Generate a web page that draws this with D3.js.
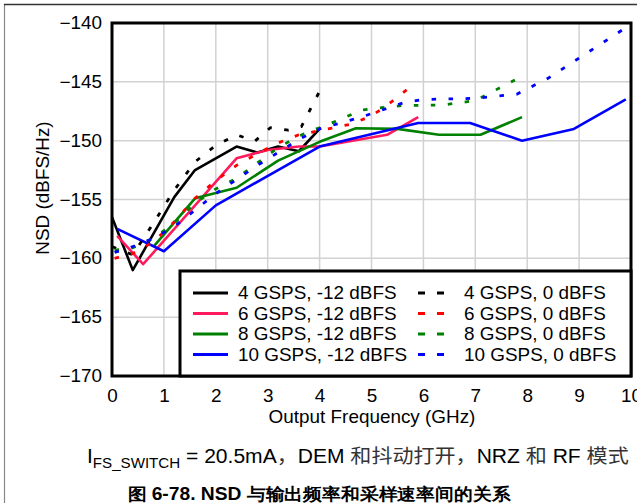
<!DOCTYPE html>
<html><head><meta charset="utf-8">
<script src="https://cdn.jsdelivr.net/npm/d3@7"></script>
<style>
html,body{margin:0;padding:0;background:#fff;}
svg{display:block;}
text{font-family:"Liberation Sans",Arial,Helvetica,sans-serif;}
</style></head>
<body>
<svg id="c" width="637" height="503"></svg>
<script>
// ---- data ----
const xTicks = [0,1,2,3,4,5,6,7,8,9,10];
const yTicks = [-140,-145,-150,-155,-160,-165,-170];

const f4m12 = [0.0, 0.4, 1.2, 1.6, 2.4, 2.8, 3.2, 3.6, 4.0];
const v4m12 = [-156.5, -161.0, -154.8, -152.5, -150.5, -151.0, -150.5, -150.9, -149.0];

const f6m12 = [0.1, 0.6, 2.4, 3.0, 3.6, 4.0, 5.3, 5.9];
const v6m12 = [-158.1, -160.5, -151.5, -150.8, -150.5, -150.5, -149.5, -148.0];

const f8m12 = [0.8, 1.6, 2.4, 3.2, 4.0, 4.7, 5.5, 6.3, 7.1, 7.9];
const v8m12 = [-159.0, -154.9, -154.0, -151.7, -150.1, -148.95, -149.0, -149.5, -149.5, -148.0];

const f10m12 = [0.1, 1.0, 2.0, 4.0, 5.9, 6.9, 7.9, 8.9, 9.9];
const v10m12 = [-157.5, -159.4, -155.5, -150.5, -148.5, -148.5, -150.0, -149.0, -146.5];

const f4z = [0.0, 0.4, 0.8, 1.2, 1.6, 2.0, 2.4, 2.75, 3.05, 3.4, 3.65, 4.0];
const v4z = [-159.0, -159.7, -157.0, -154.2, -151.8, -150.4, -149.5, -150.05, -148.9, -149.1, -148.8, -145.8];

const f6z = [0.05, 0.4, 0.8, 1.2, 1.6, 2.0, 2.4, 2.8, 3.2, 3.6, 4.0, 4.6, 5.0, 5.3, 5.7];
const v6z = [-160.0, -159.6, -158.6, -156.9, -154.9, -153.4, -152.1, -151.1, -150.2, -149.5, -149.15, -148.6, -147.9, -147.0, -145.6];

const f8z = [0.05, 0.4, 0.8, 1.2, 1.6, 2.0, 2.4, 2.8, 3.2, 3.6, 4.0, 4.4, 4.8, 5.2, 5.6, 6.0, 6.4, 7.0, 7.8];
const v8z = [-159.3, -159.1, -158.3, -157.0, -155.3, -154.1, -153.2, -151.9, -150.6, -149.6, -148.9, -148.2, -147.4, -147.2, -147.0, -147.0, -146.95, -146.6, -144.75];

const f10z = [0.05, 0.4, 0.8, 1.2, 1.6, 2.0, 2.4, 2.8, 3.2, 3.6, 4.0, 4.4, 4.8, 5.2, 5.6, 6.0, 7.0, 7.8, 8.4, 9.9];
const v10z = [-159.5, -159.0, -158.3, -157.3, -155.9, -154.5, -153.3, -152.1, -151.0, -149.9, -149.0, -148.5, -148.0, -147.4, -146.8, -146.5, -146.4, -146.05, -144.7, -140.4];

const seriesNames = ["4 GSPS, -12 dBFS","6 GSPS, -12 dBFS","8 GSPS, -12 dBFS","10 GSPS, -12 dBFS",
                     "4 GSPS, 0 dBFS","6 GSPS, 0 dBFS","8 GSPS, 0 dBFS","10 GSPS, 0 dBFS"];
const seriesColors = ["#000000","#ff1a5e","#008000","#0000ff","#000000","#ff0000","#008000","#0000ff"];

const xTitle = "Output Frequency (GHz)";
const yTitle = "NSD (dBFS/Hz)";
const figTitle = "图 6-78. NSD 与输出频率和采样速率间的关系";

// ---- build ----
const series = [
  [f4m12,v4m12],[f6m12,v6m12],[f8m12,v8m12],[f10m12,v10m12],
  [f4z,v4z],[f6z,v6z],[f8z,v8z],[f10z,v10z]
].map((p,i)=>({name:seriesNames[i], color:seriesColors[i], dashed:i>=4,
   pts:p[0].map((f,j)=>[f,p[1][j]])}));

const svg = d3.select("#c");
const L=112, R=631, T=23, B=376;
const x = d3.scaleLinear().domain([0,10]).range([L,R]);
const y = d3.scaleLinear().domain([-170,-140]).range([B,T]);
const SX = 1.08;

// outer page border
svg.append("line").attr("x1",4.5).attr("x2",4.5).attr("y1",4).attr("y2",503).attr("stroke","#888").attr("stroke-width",1.2);
svg.append("line").attr("x1",4).attr("x2",637).attr("y1",4.5).attr("y2",4.5).attr("stroke","#333").attr("stroke-width",1.5);

// grid
const g = svg.append("g");
g.selectAll(".gx").data(xTicks.slice(1,-1)).join("line")
  .attr("x1",d=>x(d)).attr("x2",d=>x(d)).attr("y1",T).attr("y2",B)
  .attr("stroke","#d2d2d2").attr("stroke-width",1.5);
g.selectAll(".gy").data(yTicks.slice(1,-1)).join("line")
  .attr("x1",L).attr("x2",R).attr("y1",d=>y(d)).attr("y2",d=>y(d))
  .attr("stroke","#d2d2d2").attr("stroke-width",1.5);

// axes
const ax = svg.append("g").attr("transform",`translate(0,${B})`)
  .call(d3.axisBottom(x).tickValues(xTicks).tickSize(0).tickPadding(14).tickFormat(d3.format("d")));
ax.select(".domain").remove();
const ay = svg.append("g").attr("transform",`translate(${L},0)`)
  .call(d3.axisLeft(y).tickValues(yTicks).tickSize(0).tickPadding(10).tickFormat(d3.format("d")));
ay.select(".domain").remove();
svg.selectAll(".tick text").attr("font-size",17.5).attr("fill","#000")
  .attr("font-family","Liberation Sans, Arial, sans-serif");
ax.selectAll(".tick text").attr("transform",`scale(${SX},1)`).attr("x",0);
ay.selectAll(".tick text").each(function(){
  const t=d3.select(this); const xx=+t.attr("x");
  t.attr("transform",`translate(${xx},0) scale(${SX},1)`).attr("x",0);
});

// lines
const line = d3.line().x(d=>x(d[0])).y(d=>y(d[1]));
const lg = svg.append("g");
lg.selectAll("path").data(series).join("path")
  .attr("d",d=>line(d.pts)).attr("fill","none")
  .attr("stroke",d=>d.color).attr("stroke-width",d=>d.dashed?2.8:2.6)
  .attr("stroke-dasharray",d=>d.dashed?"4.5,12.5":null)
  .attr("stroke-linejoin","round");

// frame
svg.append("rect").attr("x",L).attr("y",T).attr("width",R-L).attr("height",B-T)
  .attr("fill","none").attr("stroke","#000").attr("stroke-width",3);

// legend
const legX0=180, legY0=271;
svg.append("rect").attr("x",legX0).attr("y",legY0).attr("width",R-legX0).attr("height",B-legY0)
  .attr("fill","#fff").attr("stroke","#000").attr("stroke-width",3);
const rowY = i=>293+ i*20.5;
const leg = svg.append("g");
series.forEach((s,i)=>{
  const col = s.dashed?1:0, row=i%4;
  const lx = col? 418:193, tx = col? 464:238;
  leg.append("line").attr("x1",lx).attr("x2",lx+(col?26:35)).attr("y1",rowY(row)).attr("y2",rowY(row))
    .attr("stroke",s.color).attr("stroke-width",2.8)
    .attr("stroke-dasharray",s.dashed?"7,12":null);
  leg.append("text").attr("transform",`translate(${tx},${rowY(row)+6}) scale(${SX},1)`)
    .attr("font-size",17.5).text(s.name);
});

// axis titles
svg.append("text").attr("transform",`translate(372,423) scale(${SX},1)`).attr("text-anchor","middle")
  .attr("font-size",17.5).text(xTitle);
svg.append("text").attr("transform",`translate(49,188) rotate(-90) scale(${SX},1)`).attr("text-anchor","middle")
  .attr("font-size",17.5).text(yTitle);

// caption
const cap = svg.append("text").attr("transform","translate(87,463) scale(1.08,1)").attr("font-size",19.5);
cap.append("tspan").text("I");
cap.append("tspan").attr("font-size",14).attr("dy",5).text("FS_SWITCH");
cap.append("tspan").attr("dy",-5).text(" = 20.5mA");
cap.append("tspan").attr("font-family","Noto Sans CJK SC").attr("fill","#333").text("，");
cap.append("tspan").text("DEM ");
cap.append("tspan").attr("font-family","Noto Sans CJK SC").attr("fill","#333").text("和抖动打开，");
cap.append("tspan").text("NRZ ");
cap.append("tspan").attr("font-family","Noto Sans CJK SC").attr("fill","#333").text("和");
cap.append("tspan").text(" RF ");
cap.append("tspan").attr("font-family","Noto Sans CJK SC").attr("fill","#333").text("模式");

// figure title
svg.append("text").attr("transform","translate(319,500) scale(1.1,1)").attr("text-anchor","middle")
  .attr("font-size",17.5).attr("font-weight","bold")
  .attr("font-family","Liberation Sans, Noto Sans CJK SC, sans-serif").text(figTitle);
</script>
</body></html>
